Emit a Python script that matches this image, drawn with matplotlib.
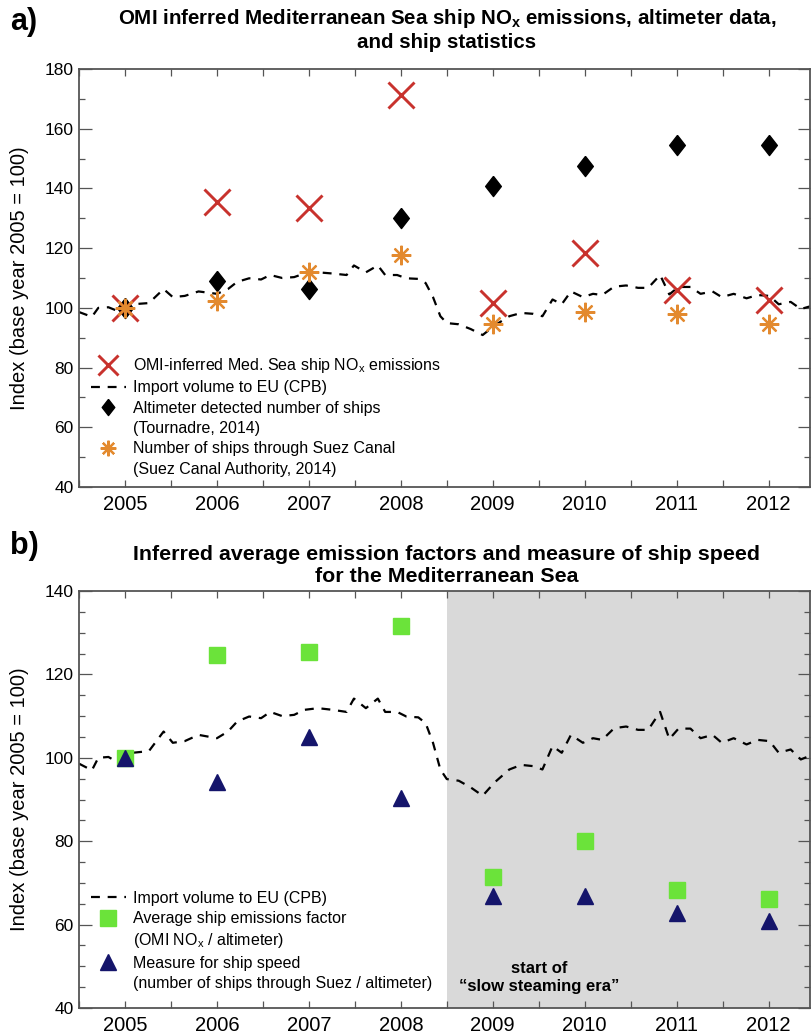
import matplotlib
matplotlib.use("Agg")
import matplotlib.pyplot as plt
from matplotlib.lines import Line2D
from matplotlib.ticker import MultipleLocator

# ---------------------------------------------------------
# DATA
# ---------------------------------------------------------
years = [2005, 2006, 2007, 2008, 2009, 2010, 2011, 2012]

omi_nox = [100, 135.5, 133.6, 171.4, 101.7, 118.5, 105.9, 102.6]
altimeter_ships = [100, 108.9, 106.4, 130.2, 140.8, 147.5, 154.6, 154.6]
suez_ships = [100, 102.2, 112.0, 117.6, 94.6, 98.7, 97.8, 94.6]

emission_factor = [100, 124.6, 125.4, 131.5, 71.5, 80.0, 68.3, 66.1]
ship_speed = [100, 94.2, 105.0, 90.3, 66.8, 66.8, 62.8, 60.9]

# import volume to EU (CPB)
import_t = [2004.50, 2004.64, 2004.71, 2004.82, 2004.90, 2005.00, 2005.08,
            2005.26, 2005.42, 2005.52, 2005.65, 2005.80, 2006.00, 2006.12,
            2006.22, 2006.35, 2006.48, 2006.58, 2006.71, 2006.84, 2006.95,
            2007.10, 2007.26, 2007.41, 2007.49, 2007.62, 2007.75, 2007.83,
            2007.96, 2008.06, 2008.19, 2008.27, 2008.35, 2008.43, 2008.50,
            2008.63, 2008.76, 2008.89, 2009.02, 2009.18, 2009.31, 2009.44,
            2009.54, 2009.65, 2009.75, 2009.85, 2009.98, 2010.09, 2010.19,
            2010.32, 2010.45, 2010.58, 2010.69, 2010.82, 2010.92, 2011.02,
            2011.15, 2011.26, 2011.39, 2011.49, 2011.62, 2011.76, 2011.88,
            2012.01, 2012.11, 2012.24, 2012.35, 2012.45]
import_v = [98.6, 97.0, 100.0, 100.2, 99.2, 100.0, 101.2,
            101.6, 106.3, 103.6, 104.0, 105.5, 104.7, 106.3,
            108.7, 109.9, 109.5, 111.0, 110.0, 110.3, 111.5,
            111.9, 111.5, 111.0, 114.2, 111.9, 114.2, 111.0,
            111.0, 109.9, 109.7, 108.3, 103.6, 97.2, 94.9,
            94.5, 92.9, 90.9, 94.1, 97.2, 98.3, 98.0,
            97.2, 102.8, 101.2, 105.5, 103.6, 104.7, 104.3,
            107.1, 107.5, 106.7, 106.7, 111.0, 104.5, 107.0,
            107.0, 104.7, 105.5, 103.6, 104.7, 103.2, 104.3,
            104.0, 101.2, 102.0, 99.6, 100.5]

# ---------------------------------------------------------
# STYLE
# ---------------------------------------------------------
plt.rcParams['font.family'] = ['Liberation Sans', 'DejaVu Sans']
plt.rcParams['mathtext.default'] = 'regular'

RED = '#c8322d'
ORANGE = '#e38a2f'
GREEN = '#6be33a'
NAVY = '#15156b'
SPINE = '#555555'
# slightly slim diamond, as in the original
DIAMOND = [(0, 1), (0.78, 0), (0, -1), (-0.78, 0), (0, 1)]

W, H = 812, 1034
fig = plt.figure(figsize=(W / 100, H / 100), dpi=100)
ax_a = fig.add_axes([79 / W, 1 - 487 / H, 731 / W, 418 / H])
ax_b = fig.add_axes([79 / W, 1 - 1008 / H, 731 / W, 417 / H])


def style_axes(ax, ymin, ymax, ymajor, yminor):
    ax.set_xlim(2004.5, 2012.45)
    ax.set_ylim(ymin, ymax)
    ax.xaxis.set_major_locator(MultipleLocator(1))
    ax.xaxis.set_minor_locator(MultipleLocator(0.5))
    ax.yaxis.set_major_locator(MultipleLocator(ymajor))
    ax.yaxis.set_minor_locator(MultipleLocator(yminor))
    ax.tick_params(axis='both', which='both', direction='in', top=True,
                   right=True, color=SPINE, width=0.9)
    ax.tick_params(axis='x', which='both', length=5, labelsize=14.5, pad=6)
    ax.tick_params(axis='y', which='major', length=9, labelsize=12.5, pad=4)
    ax.tick_params(axis='y', which='minor', length=4.5)
    for s in ax.spines.values():
        s.set_color(SPINE)
        s.set_linewidth(1.3)
    ax.set_ylabel('Index (base year 2005 = 100)', fontsize=14.5, labelpad=11)


LEG = dict(loc='lower left', frameon=False, fontsize=11.5, handlelength=2.2,
           handletextpad=0.45, labelspacing=0.33, borderpad=0,
           borderaxespad=0)

# ---------------------------------------------------------
# PANEL A
# ---------------------------------------------------------
ax = ax_a
h_imp, = ax.plot(import_t, import_v, color='black', lw=1.6,
                 dashes=(4, 3.5), zorder=2)
h_omi, = ax.plot(years, omi_nox, linestyle='none', marker='x', ms=18.5,
                 mew=2.1, color=RED, zorder=4)
h_alt, = ax.plot(years, altimeter_ships, linestyle='none', marker=DIAMOND,
                 ms=14.5, color='black', zorder=3)
h_suez, = ax.plot(years, suez_ships, linestyle='none', marker=(8, 2, 0),
                  ms=14, mew=1.6, color=ORANGE, zorder=5)
style_axes(ax, 40, 180, 20, 10)

blank = Line2D([], [], linestyle='none')
ax.legend([h_omi, h_imp, h_alt, blank, h_suez, blank],
          ['OMI-inferred Med. Sea ship NO$_x$ emissions',
           'Import volume to EU (CPB)',
           'Altimeter detected number of ships',
           '(Tournadre, 2014)',
           'Number of ships through Suez Canal',
           '(Suez Canal Authority, 2014)'],
          bbox_to_anchor=(0.016, 0.025), markerscale=0.8, **LEG)

fig.text(10 / W, 1 - 22 / H, 'a)', fontsize=22, fontweight='bold',
         va='center', ha='left')
fig.text(447 / W, 1 - 29 / H,
         'OMI inferred Mediterranean Sea ship NO$_x$ emissions, altimeter data,\n'
         'and ship statistics', fontsize=14.8,
         fontweight='bold', ha='center', va='center', linespacing=1.2)

# ---------------------------------------------------------
# PANEL B
# ---------------------------------------------------------
ax = ax_b
ax.axvspan(2008.5, 2012.45, color='#d9d9d9', lw=0, zorder=0)
h_imp_b, = ax.plot(import_t, import_v, color='black', lw=1.6,
                   dashes=(4, 3.5), zorder=2)
h_ef, = ax.plot(years, emission_factor, linestyle='none', marker='s',
                ms=11.5, color=GREEN, zorder=3)
h_sp, = ax.plot(years, ship_speed, linestyle='none', marker='^',
                ms=12, color=NAVY, zorder=4)
style_axes(ax, 40, 140, 20, 5)

ax.legend([h_imp_b, h_ef, blank, h_sp, blank],
          ['Import volume to EU (CPB)',
           'Average ship emissions factor',
           '(OMI NO$_x$ / altimeter)',
           'Measure for ship speed',
           '(number of ships through Suez / altimeter)'],
          bbox_to_anchor=(0.016, 0.041), markerscale=1.0, **LEG)

ax.text(2009.5, 47.3, 'start of\n\u201cslow steaming era\u201d', ha='center',
        va='center', fontsize=12, fontweight='bold', linespacing=1.3)

fig.text(10 / W, 1 - 546 / H, 'b)', fontsize=22, fontweight='bold',
         va='center', ha='left')
fig.text(447 / W, 1 - 566 / H,
         'Inferred average emission factors and measure of ship speed\n'
         'for the Mediterranean Sea', fontsize=15.4,
         fontweight='bold', ha='center', va='center', linespacing=1.2)

plt.savefig('out.png', dpi=100)
